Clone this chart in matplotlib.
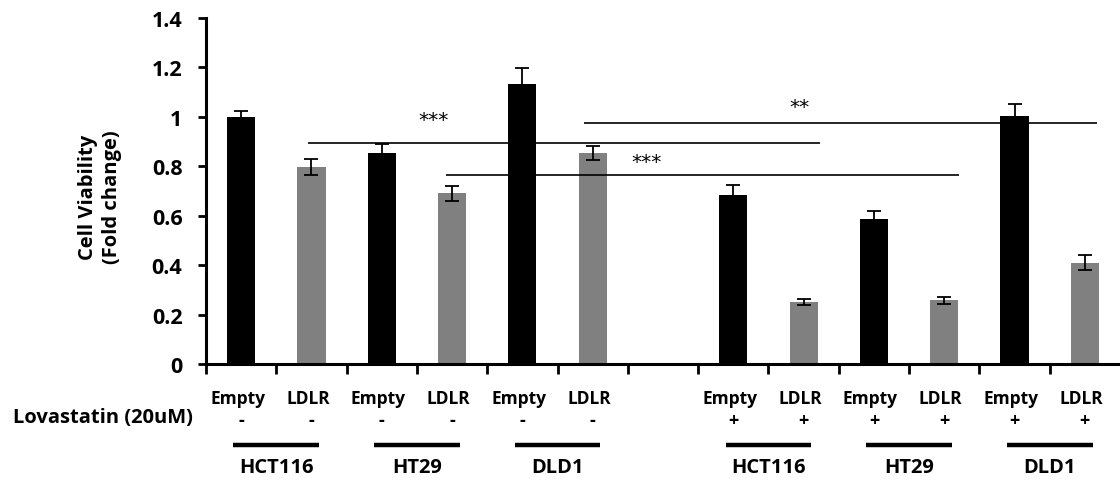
import matplotlib
matplotlib.use("Agg")
import matplotlib.pyplot as plt
import matplotlib.transforms as mtransforms
import numpy as np

plt.rcParams['font.family'] = ['Open Sans', 'DejaVu Sans']

# Bar data: 13 slots, slot 6 left empty between untreated and treated sets
constructs = ["Empty", "LDLR", "Empty", "LDLR", "Empty", "LDLR", "",
              "Empty", "LDLR", "Empty", "LDLR", "Empty", "LDLR"]
lovastatin = ["-", "-", "-", "-", "-", "-", "",
              "+", "+", "+", "+", "+", "+"]
viability = [1.00, 0.796, 0.852, 0.690, 1.133, 0.855, np.nan,
             0.682, 0.250, 0.585, 0.258, 1.004, 0.410]
errors = [0.025, 0.032, 0.040, 0.032, 0.065, 0.028, np.nan,
          0.042, 0.013, 0.035, 0.015, 0.050, 0.031]
bar_colors = ["black", "#808080"] * 3 + ["white"] + ["black", "#808080"] * 3

cell_lines = ["HCT116", "HT29", "DLD1", "HCT116", "HT29", "DLD1"]
group_centers = [0.5, 2.5, 4.5, 7.5, 9.5, 11.5]

# Significance brackets: (start, end, height) and labels (text, x, y)
sig_lines = [(0.95, 8.24, 0.893), (2.91, 10.21, 0.765), (4.88, 12.17, 0.976)]
sig_labels = [("***", 2.74, 0.99), ("***", 5.76, 0.82), ("**", 7.94, 1.043)]

y_ticks = [0, 0.2, 0.4, 0.6, 0.8, 1.0, 1.2, 1.4]
y_tick_labels = ["0", "0.2", "0.4", "0.6", "0.8", "1", "1.2", "1.4"]

W, H = 1120, 481
fig = plt.figure(figsize=(W / 100, H / 100), dpi=100)
ax = fig.add_axes([206 / W, 1 - 365 / H, (W - 206) / W, (365 - 19) / H])

x = np.arange(len(viability))
ax.bar(x, viability, width=0.4, color=bar_colors, edgecolor="none", zorder=2)
ax.errorbar(x, viability, yerr=errors, fmt="none", ecolor="black",
            elinewidth=1.3, capsize=4.8, capthick=1.3, zorder=3)

for x0, x1, yv in sig_lines:
    ax.plot([x0, x1], [yv, yv], color="black", lw=1.2, zorder=4,
            solid_capstyle="butt")
for txt, xv, yv in sig_labels:
    ax.text(xv, yv, txt, ha="center", va="center", fontsize=14.5,
            family="DejaVu Sans", color="black")

ax.set_xlim(-0.5, 12.5)
ax.set_ylim(0, 1.4)
ax.set_yticks(y_ticks)
ax.set_yticklabels(y_tick_labels, fontsize=15.5, fontweight="bold")
ax.set_xticks(np.arange(-0.5, 12.5, 1.0))
ax.set_xticklabels([])
ax.tick_params(axis="y", direction="out", length=6, width=2, pad=11)
ax.tick_params(axis="x", direction="out", length=7, width=2)

for side in ["top", "right"]:
    ax.spines[side].set_visible(False)
for side in ["left", "bottom"]:
    ax.spines[side].set_linewidth(2.2)


def fy(py):
    return 1 - py / H


fig.text(100 / W, fy(197), "Cell Viability\n(Fold change)",
         rotation=90, ha="center", va="center", fontsize=14.5,
         fontweight="bold", linespacing=1.2)

# Labels beneath the axis: x in data units, y in figure pixels
trans = mtransforms.blended_transform_factory(ax.transData, fig.transFigure)

for xi, (c, s) in enumerate(zip(constructs, lovastatin)):
    if c:
        ax.text(xi - 0.05, fy(399), c, transform=trans, ha="center",
                va="center", fontsize=12.5, fontweight="bold", clip_on=False)
        ax.text(xi, fy(421), s, transform=trans, ha="center", va="center",
                fontsize=13, fontweight="bold", clip_on=False)

fig.text(13 / W, fy(418), "Lovastatin (20uM)", ha="left", va="center",
         fontsize=14.5, fontweight="bold")

for name, gc in zip(cell_lines, group_centers):
    ax.plot([gc - 0.61, gc + 0.61], [fy(446), fy(446)], transform=trans,
            color="black", lw=3.2, clip_on=False, solid_capstyle="butt")
    ax.text(gc, fy(468), name, transform=trans, ha="center", va="center",
            fontsize=14.5, fontweight="bold", clip_on=False)

fig.savefig("out.png", dpi=100)
